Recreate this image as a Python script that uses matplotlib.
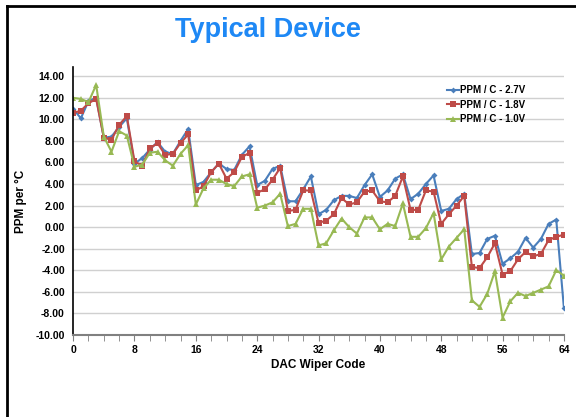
import matplotlib
matplotlib.use("Agg")
import matplotlib.pyplot as plt
from matplotlib.lines import Line2D

plt.rcParams['font.family'] = ['Liberation Sans', 'DejaVu Sans']

# DAC wiper codes 0..64
codes = list(range(65))

ppm_27 = [11.0, 10.1, 11.7, 12.0, 8.3, 8.4, 9.3, 10.1,
          5.9, 6.4, 7.2, 7.9, 7.0, 6.8, 8.0, 9.1,
          3.9, 4.2, 5.1, 5.9, 5.4, 5.3, 6.7, 7.5,
          3.9, 4.3, 5.4, 5.7, 2.4, 2.4, 3.5, 4.7,
          1.2, 1.6, 2.5, 2.9, 2.9, 2.7, 3.9, 4.9,
          2.8, 3.4, 4.5, 4.9, 2.6, 3.1, 4.0, 4.8,
          1.5, 1.7, 2.6, 3.1, -2.5, -2.4, -1.1, -0.8,
          -3.4, -2.9, -2.3, -1.0, -1.9, -1.1, 0.3, 0.7,
          -7.5]
ppm_18 = [10.6, 10.8, 11.5, 11.9, 8.3, 8.1, 9.5, 10.3,
          6.1, 5.7, 7.3, 7.8, 6.7, 6.8, 7.8, 8.6,
          3.4, 3.8, 5.1, 5.9, 4.5, 5.1, 6.5, 6.9,
          3.2, 3.5, 4.4, 5.5, 1.5, 1.6, 3.4, 3.4,
          0.4, 0.6, 1.2, 2.7, 2.1, 2.3, 3.3, 3.4,
          2.4, 2.3, 2.9, 4.7, 1.6, 1.6, 3.4, 3.3,
          0.3, 1.2, 2.0, 2.9, -3.7, -3.8, -2.8, -1.5,
          -4.4, -4.1, -3.0, -2.3, -2.7, -2.5, -1.2, -0.9,
          -0.7]
ppm_10 = [12.0, 11.9, 11.6, 13.2, 8.4, 7.0, 8.9, 8.5,
          5.6, 5.8, 6.9, 7.0, 6.2, 5.7, 6.8, 7.6,
          2.1, 3.6, 4.4, 4.4, 4.0, 3.8, 4.7, 4.9,
          1.8, 2.0, 2.3, 3.1, 0.1, 0.3, 1.7, 1.7,
          -1.7, -1.5, -0.3, 0.8, 0.0, -0.6, 0.9, 0.9,
          -0.2, 0.3, 0.1, 2.2, -0.9, -0.9, -0.1, 1.3,
          -3.0, -1.8, -1.0, -0.2, -6.8, -7.4, -6.2, -4.1,
          -8.4, -6.9, -6.1, -6.4, -6.1, -5.8, -5.5, -4.0,
          -4.5]

labels = ['PPM / C - 2.7V', 'PPM / C - 1.8V', 'PPM / C - 1.0V']
colors = ['#4A7EBB', '#BE4B48', '#98B954']
markers = ['D', 's', '^']
msizes = [3, 5, 5]

fig = plt.figure(figsize=(5.76, 4.17), dpi=100, facecolor='white')
ax = fig.add_axes([0.127, 0.197, 0.852, 0.642])

for ys, lab, c, m, ms in zip([ppm_27, ppm_18, ppm_10], labels, colors, markers, msizes):
    ax.plot(codes, ys, color=c, marker=m, markersize=ms, linewidth=1.5,
            label=lab, markeredgewidth=0)

ax.set_xlim(0, 64)
ax.set_ylim(-10, 14.85)
ax.set_xticks(range(0, 65, 8))
ax.set_xticks(range(0, 65, 2), minor=True)
ax.set_yticks(range(-10, 15, 2))
ax.set_yticklabels(['%.2f' % v for v in range(-10, 15, 2)])
ax.grid(axis='y', color='#D0D0D0', linewidth=1)
ax.set_axisbelow(True)

for s in ['top', 'right']:
    ax.spines[s].set_visible(False)
ax.spines['left'].set_color('black')
ax.spines['left'].set_linewidth(1.2)
ax.spines['bottom'].set_color('#808080')
ax.spines['bottom'].set_linewidth(1.5)
ax.tick_params(axis='y', length=0, labelsize=7.5, pad=6)
ax.tick_params(axis='x', which='both', length=4, color='#808080', labelsize=7.5, pad=3)
for t in ax.get_xticklabels() + ax.get_yticklabels():
    t.set_fontweight('bold')

ax.set_xlabel('DAC Wiper Code', fontsize=8.5, fontweight='bold', labelpad=3)
ax.set_ylabel('PPM per °C', fontsize=8.5, fontweight='bold', labelpad=6)

handles = [Line2D([0], [0], color=c, marker=m, markersize=ms, markeredgewidth=0, linewidth=1.5)
           for c, m, ms in zip(colors, markers, msizes)]
leg = ax.legend(handles, labels, loc='upper right', bbox_to_anchor=(0.94, 0.965),
                frameon=False, handlelength=1.3, handletextpad=0.1, labelspacing=0.45,
                prop={'weight': 'bold', 'size': 7})

fig.text(0.465, 0.929, 'Typical Device', color='#1E88F5', fontsize=19.5,
         fontweight='bold', ha='center', va='center')

# frame around the chart
fig.add_artist(Line2D([0.012, 0.012], [0, 0.985], transform=fig.transFigure, color='black', linewidth=2))
fig.add_artist(Line2D([0.012, 1], [0.985, 0.985], transform=fig.transFigure, color='black', linewidth=2))

fig.savefig('out.png', dpi=100)
